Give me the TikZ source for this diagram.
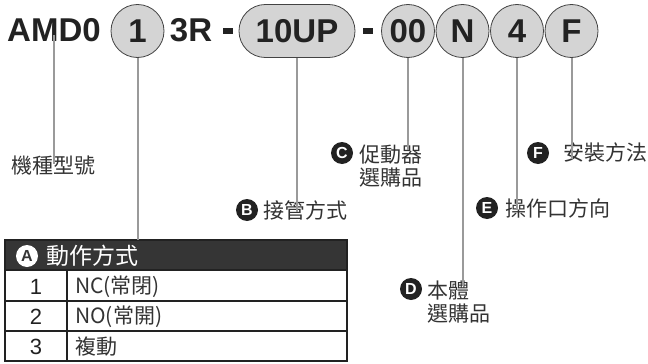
\documentclass[tikz,border=0pt]{standalone}
\usepackage{fontspec}
\setmainfont{Liberation Sans}
\newfontfamily\cjk{Noto Sans CJK TC}
\definecolor{ink}{HTML}{222222}
\definecolor{txt}{HTML}{333333}
\definecolor{ballfill}{HTML}{D4D4D4}
\definecolor{lead}{HTML}{9A9A9A}
\definecolor{headfill}{HTML}{353535}
\tikzset{
  code/.style={font=\fontsize{33}{33}\selectfont\bfseries, text=ink, inner sep=0pt},
  ballnode/.style={circle, draw=ink!85, line width=0.8pt, fill=ballfill, minimum size=53pt, inner sep=0pt, code},
  pill/.style={rectangle, rounded corners=26.4pt, draw=ink!85, line width=0.8pt, fill=ballfill, minimum height=53pt, minimum width=116pt, inner sep=0pt, code},
  dashbar/.style={rectangle, fill=ink, minimum width=10pt, minimum height=6pt, inner sep=0pt},
  leader/.style={draw=lead, line width=2pt},
  badge/.style={circle, fill=ink, text=white, font=\fontsize{16}{16}\selectfont\bfseries, minimum size=22pt, inner sep=0pt},
  lbl/.style={font=\cjk\fontsize{21}{23}\selectfont, text=txt, inner sep=0pt, anchor=west, align=left},
  cell/.style={font=\cjk\fontsize{21}{21}\selectfont, text=txt, inner sep=0pt},
  numcell/.style={font=\fontsize{22}{22}\selectfont, text=ink, inner sep=0pt},
  grid/.style={draw=ink, line width=1.2pt},
}
\begin{document}
\begin{tikzpicture}[x=1pt,y=-1pt]
\useasboundingbox (0,0) rectangle (648,364);
% code row
\node[code] (amd) at (54,30) {AMD0};
\node[ballnode] (c1) at (137.5,31) {1};
\node[code] (r3) at (191,30) {3R};
\node[dashbar] (d1) at (228,30.5) {};
\node[pill] (p10) at (297,31) {10UP};
\node[dashbar] (d2) at (368,30.5) {};
\node[ballnode] (c00) at (408,31) {00};
\node[ballnode] (cN) at (462.5,31) {N};
\node[ballnode] (c4) at (517,31) {4};
\node[ballnode] (cF) at (571.5,31) {F};
% labels
\node[lbl, anchor=center] (l0) at (53.5,166) {機種型號};
\node[badge] (bB) at (247,210) {B};
\node[lbl] (lB) at (263,210) {接管方式};
\node[badge] (bC) at (342,153) {C};
\node[lbl] (lC) at (359,166) {促動器\\選購品};
\node[badge] (bD) at (411,289) {D};
\node[lbl] (lD) at (427,302) {本體\\選購品};
\node[badge] (bE) at (487,208) {E};
\node[lbl] (lE) at (505,208) {操作口方向};
\node[badge] (bF) at (538,153) {F};
\node[lbl] (lF) at (563,153) {安裝方法};
% table
\node[rectangle, fill=headfill, minimum width=342pt, minimum height=30pt, inner sep=0pt] (th) at (176,255) {};
\node[circle, fill=white, text=headfill, font=\fontsize{16}{16}\selectfont\bfseries, minimum size=22pt, inner sep=0pt] (bA) at (27,256) {A};
\node[cell, text=white, anchor=west, font=\cjk\fontsize{23}{23}\selectfont] (tA) at (46,256) {動作方式};
\node[numcell] (n1) at (36,287) {1};
\node[cell, anchor=west] (t1) at (75,287) {NC(常閉)};
\node[numcell] (n2) at (36,317) {2};
\node[cell, anchor=west] (t2) at (75,317) {NO(常開)};
\node[numcell] (n3) at (36,347) {3};
\node[cell, anchor=west] (t3) at (75,347) {複動};
\draw[grid] (5,270) -- (347,270);
\draw[grid] (5,301) -- (347,301);
\draw[grid] (5,331) -- (347,331);
\draw[grid] (67,270) -- (67,361);
\draw[draw=ink, line width=2pt] (5,240) rectangle (347,361);
% leaders
\draw[leader] ([yshift=7pt]amd.south) -- ([yshift=-8pt]amd.south |- l0.north);
\draw[leader] (c1.south) -- (c1.south |- th.north);
\draw[leader] (p10.south) -- ([yshift=-12pt]p10.south |- lB.north);
\draw[leader] (c00.south) -- ([yshift=-5pt]c00.south |- lC.north);
\draw[leader] (cN.south) -- ([yshift=-5pt]cN.south |- lD.north);
\draw[leader] (c4.south) -- ([yshift=-12pt]c4.south |- lE.north);
\draw[leader] (cF.south) -- ([yshift=-16pt]cF.south |- lF.north);
\end{tikzpicture}
\end{document}
